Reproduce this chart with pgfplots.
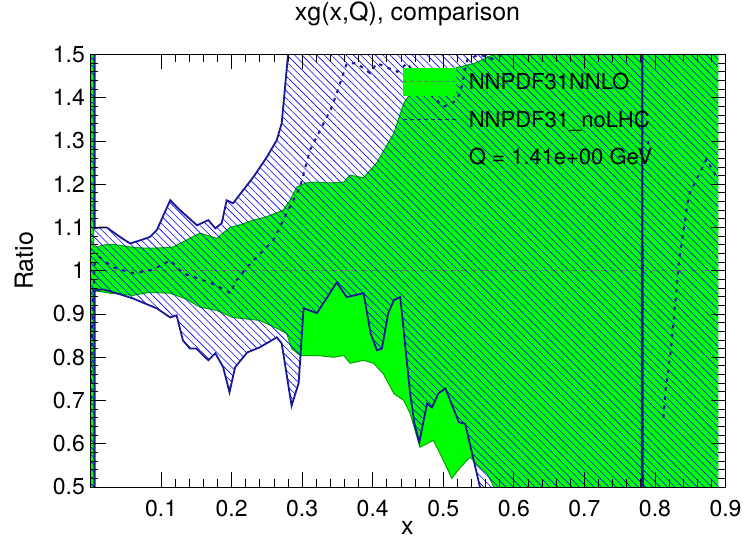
\documentclass[border=0pt]{standalone}
\usepackage{fontspec}
\setmainfont{TeX Gyre Heros}
\usepackage{pgfplots}
\usepackage{pgfplotstable}
\pgfplotsset{compat=1.18}
\usetikzlibrary{patterns.meta}
\definecolor{ngreen}{RGB}{0,255,0}
\definecolor{gedge}{RGB}{0,165,0}
\definecolor{gcline}{RGB}{85,135,85}
\definecolor{navy}{RGB}{25,25,150}
\definecolor{hatch}{RGB}{0,0,255}

% NNPDF31NNLO band: upper edge
\pgfplotstableread{
x y
0.0001 3
0.0035 3
0.0045 1.055
0.009 1.055
0.02 1.06
0.032 1.061
0.045 1.058
0.06 1.054
0.08 1.052
0.1 1.053
0.117 1.055
0.135 1.07
0.155 1.087
0.165 1.082
0.179 1.075
0.19 1.09
0.198 1.10
0.215 1.108
0.231 1.117
0.25 1.125
0.273 1.14
0.283 1.163
0.292 1.193
0.305 1.203
0.32 1.205
0.34 1.203
0.359 1.205
0.368 1.221
0.387 1.215
0.406 1.25
0.42 1.29
0.43 1.318
0.444 1.387
0.458 1.422
0.48 1.445
0.505 1.462
0.52 1.47
0.545 1.48
0.571 1.5
0.6 1.6
0.89 1.6
}\gup

% NNPDF31NNLO band: lower edge (right to left)
\pgfplotstableread{
x y
0.89 0.3
0.58 0.3
0.572 0.50
0.562 0.531
0.552 0.545
0.538 0.569
0.524 0.545
0.512 0.52
0.498 0.569
0.486 0.608
0.467 0.592
0.453 0.67
0.444 0.70
0.43 0.716
0.415 0.762
0.401 0.786
0.387 0.793
0.368 0.786
0.359 0.804
0.345 0.80
0.321 0.804
0.297 0.804
0.285 0.82
0.278 0.855
0.264 0.867
0.24 0.885
0.202 0.892
0.179 0.908
0.155 0.916
0.135 0.935
0.113 0.948
0.084 0.95
0.06 0.943
0.028 0.948
0.009 0.953
0.0045 0.953
0.0035 -1
0.0001 -1
}\glo

% NNPDF31NNLO band: full outline (upper then lower)
\pgfplotstableread{
x y
0.0001 3
0.0035 3
0.0045 1.055
0.009 1.055
0.02 1.06
0.032 1.061
0.045 1.058
0.06 1.054
0.08 1.052
0.1 1.053
0.117 1.055
0.135 1.07
0.155 1.087
0.165 1.082
0.179 1.075
0.19 1.09
0.198 1.10
0.215 1.108
0.231 1.117
0.25 1.125
0.273 1.14
0.283 1.163
0.292 1.193
0.305 1.203
0.32 1.205
0.34 1.203
0.359 1.205
0.368 1.221
0.387 1.215
0.406 1.25
0.42 1.29
0.43 1.318
0.444 1.387
0.458 1.422
0.48 1.445
0.505 1.462
0.52 1.47
0.545 1.48
0.571 1.5
0.6 1.6
0.89 1.6
0.89 0.3
0.58 0.3
0.572 0.50
0.562 0.531
0.552 0.545
0.538 0.569
0.524 0.545
0.512 0.52
0.498 0.569
0.486 0.608
0.467 0.592
0.453 0.67
0.444 0.70
0.43 0.716
0.415 0.762
0.401 0.786
0.387 0.793
0.368 0.786
0.359 0.804
0.345 0.80
0.321 0.804
0.297 0.804
0.285 0.82
0.278 0.855
0.264 0.867
0.24 0.885
0.202 0.892
0.179 0.908
0.155 0.916
0.135 0.935
0.113 0.948
0.084 0.95
0.06 0.943
0.028 0.948
0.009 0.953
0.0045 0.953
0.0035 -1
0.0001 -1
}\gpoly

\pgfplotstableread{
x y
0.0001 1
0.89 1
}\gcen

% NNPDF31_noLHC band: upper edge
\pgfplotstableread{
x y
0.0001 3
0.0055 3
0.006 1.098
0.013 1.10
0.023 1.10
0.042 1.078
0.056 1.063
0.07 1.07
0.084 1.078
0.094 1.094
0.113 1.163
0.127 1.14
0.151 1.105
0.167 1.117
0.177 1.098
0.186 1.11
0.193 1.163
0.202 1.156
0.231 1.217
0.25 1.263
0.264 1.302
0.271 1.341
0.28 1.5
0.29 1.8
0.89 1.8
}\bup

% NNPDF31_noLHC band: lower edge
\pgfplotstableread{
x y
0.0001 -1
0.0055 -1
0.006 0.955
0.009 0.955
0.018 0.957
0.037 0.948
0.06 0.936
0.094 0.913
0.113 0.892
0.122 0.897
0.131 0.839
0.141 0.82
0.15 0.82
0.167 0.793
0.177 0.809
0.188 0.777
0.197 0.719
0.205 0.777
0.222 0.811
0.24 0.823
0.264 0.846
0.271 0.832
0.285 0.688
0.295 0.74
0.302 0.913
0.321 0.902
0.349 0.973
0.363 0.939
0.387 0.948
0.397 0.855
0.406 0.816
0.413 0.82
0.422 0.902
0.43 0.932
0.439 0.939
0.453 0.716
0.459 0.647
0.466 0.603
0.477 0.693
0.484 0.684
0.493 0.716
0.503 0.728
0.522 0.65
0.531 0.646
0.552 0.5
0.56 0.3
0.781 0.3
0.782 1.8
0.783 0.3
0.89 0.3
}\blo

% NNPDF31_noLHC band: full outline (upper then lower, reversed)
\pgfplotstableread{
x y
0.0001 3
0.0055 3
0.006 1.098
0.013 1.10
0.023 1.10
0.042 1.078
0.056 1.063
0.07 1.07
0.084 1.078
0.094 1.094
0.113 1.163
0.127 1.14
0.151 1.105
0.167 1.117
0.177 1.098
0.186 1.11
0.193 1.163
0.202 1.156
0.231 1.217
0.25 1.263
0.264 1.302
0.271 1.341
0.28 1.5
0.29 1.8
0.89 1.8
0.89 0.3
0.56 0.3
0.552 0.5
0.531 0.646
0.522 0.65
0.503 0.728
0.493 0.716
0.484 0.684
0.477 0.693
0.466 0.603
0.459 0.647
0.453 0.716
0.439 0.939
0.43 0.932
0.422 0.902
0.413 0.82
0.406 0.816
0.397 0.855
0.387 0.948
0.363 0.939
0.349 0.973
0.321 0.902
0.302 0.913
0.295 0.74
0.285 0.688
0.271 0.832
0.264 0.846
0.24 0.823
0.222 0.811
0.205 0.777
0.197 0.719
0.188 0.777
0.177 0.809
0.167 0.793
0.15 0.82
0.141 0.82
0.131 0.839
0.122 0.897
0.113 0.892
0.094 0.913
0.06 0.936
0.037 0.948
0.018 0.957
0.009 0.955
0.006 0.955
0.0055 -1
0.0001 -1
}\bpoly

% NNPDF31_noLHC central (nan = gap where the curve is off the plot)
\pgfplotstableread{
x y
0.0003 0.70
0.002 0.85
0.004 0.95
0.006 1.017
0.013 1.031
0.032 1.008
0.06 0.994
0.084 1.001
0.1 1.012
0.113 1.024
0.131 0.994
0.16 0.978
0.18 0.965
0.198 0.948
0.207 0.978
0.222 1.008
0.231 1.024
0.259 1.07
0.278 1.133
0.297 1.193
0.311 1.279
0.34 1.371
0.349 1.41
0.363 1.479
0.377 1.48
0.396 1.457
0.406 1.48
0.42 1.47
0.435 1.46
0.449 1.48
0.47 1.43
0.49 1.395
0.50 1.379
0.515 1.39
0.524 1.41
0.534 1.487
0.55 1.50
0.57 1.49
0.585 1.50
0.6 1.8
0.7 nan
0.7905 1.30
0.7915 1.27
0.80 nan
0.812 0.66
0.815 0.723
0.822 0.809
0.831 0.962
0.834 1.022
0.848 1.175
0.873 1.258
0.886 1.22
0.89 1.21
}\bcen

\begin{document}
\begin{tikzpicture}
\useasboundingbox (0,0) rectangle (743pt,540pt);
\begin{axis}[
  at={(90.5pt,53pt)}, anchor=south west,
  width=635pt, height=432.5pt, scale only axis,
  xmin=0, xmax=0.9, ymin=0.5, ymax=1.5,
  xtick={0.1,0.2,0.3,0.4,0.5,0.6,0.7,0.8,0.9},
  xticklabels={0.1,0.2,0.3,0.4,0.5,0.6,0.7,0.8,0.9},
  ytick={0.5,0.6,0.7,0.8,0.9,1.0,1.1,1.2,1.3,1.4,1.5},
  yticklabels={0.5,0.6,0.7,0.8,0.9,1,1.1,1.2,1.3,1.4,1.5},
  minor x tick num=4, minor y tick num=4,
  tick align=inside,
  xtick pos=both, ytick pos=both,
  major tick length=15pt, minor tick length=7.5pt,
  tick style={black, line width=0.8pt},
  axis line style={black, line width=0.9pt},
  axis on top,
  tick label style={font=\fontsize{23}{23}\selectfont},
  xticklabel style={inner sep=0pt, anchor=north, yshift=-13pt},
  yticklabel style={inner sep=0pt, anchor=east, xshift=-5.5pt},
  title={xg(x,Q), comparison},
  title style={font=\fontsize{25}{25}\selectfont, at={(axis description cs:0.4992,1.0636)}, anchor=base, inner sep=0pt},
  xlabel={x},
  xlabel style={font=\fontsize{25}{25}\selectfont, at={(axis description cs:0.499,-0.111)}, anchor=base, inner sep=0pt},
  ylabel={Ratio},
  ylabel style={font=\fontsize{25}{25}\selectfont, at={(axis description cs:-0.0906,0.5225)}, anchor=base, inner sep=0pt, rotate=0},
  legend cell align=left,
  legend style={at={(axis description cs:0.4906,0.9798)}, anchor=north west, draw=none, fill=none,
    inner sep=0pt, outer sep=0pt, row sep=0pt, column sep=12pt,
    font=\fontsize{22}{22}\selectfont,
    nodes={inner sep=0pt, text height=16pt, text depth=0pt, text=black}},
]
\addplot[fill=ngreen, draw=none, forget plot] table {\gpoly} -- cycle;
\addplot[gedge, line width=1pt, forget plot] table {\gup};
\addplot[gedge, line width=1pt, forget plot] table {\glo};
\addplot[gcline, line width=1.2pt, dash pattern=on 6pt off 4pt, forget plot] table {\gcen};
\addplot[pattern={Lines[angle=-45,distance=5.2pt,line width=0.6pt]}, pattern color=hatch, draw=none, forget plot] table {\bpoly} -- cycle;
\addplot[navy, line width=1.8pt, forget plot] table {\bup};
\addplot[navy, line width=1.8pt, forget plot] table {\blo};
\addplot[navy, line width=2pt, dash pattern=on 3.5pt off 5.5pt, unbounded coords=jump, forget plot] table {\bcen};

\addlegendimage{legend image code/.code={%
  \pgfpathrectangle{\pgfpoint{0pt}{-18.75pt}}{\pgfpoint{53pt}{37.5pt}}\pgfusepath{}%
  \pgfsetfillcolor{ngreen}%
  \pgfpathrectangle{\pgfpoint{0pt}{-14pt}}{\pgfpoint{53pt}{28pt}}\pgfusepath{fill}%
  \pgfsetstrokecolor{gcline}\pgfsetlinewidth{1pt}\pgfsetdash{{4pt}{3pt}}{0pt}%
  \pgfpathmoveto{\pgfpoint{0pt}{0pt}}\pgfpathlineto{\pgfpoint{53pt}{0pt}}\pgfusepath{stroke}}}
\addlegendentry{NNPDF31NNLO}
\addlegendimage{legend image code/.code={%
  \pgfpathrectangle{\pgfpoint{0pt}{-18.75pt}}{\pgfpoint{53pt}{37.5pt}}\pgfusepath{}%
  \pgfsetstrokecolor{navy}\pgfsetlinewidth{1.8pt}\pgfsetdash{{4pt}{3pt}}{0pt}%
  \pgfpathmoveto{\pgfpoint{0pt}{0pt}}\pgfpathlineto{\pgfpoint{53pt}{0pt}}\pgfusepath{stroke}}}
\addlegendentry{NNPDF31\_noLHC}
\addlegendimage{legend image code/.code={%
  \pgfpathrectangle{\pgfpoint{0pt}{-18.75pt}}{\pgfpoint{53pt}{37.5pt}}\pgfusepath{}}}
\addlegendentry{Q = 1.41e+00 GeV}
\end{axis}
\end{tikzpicture}
\end{document}
